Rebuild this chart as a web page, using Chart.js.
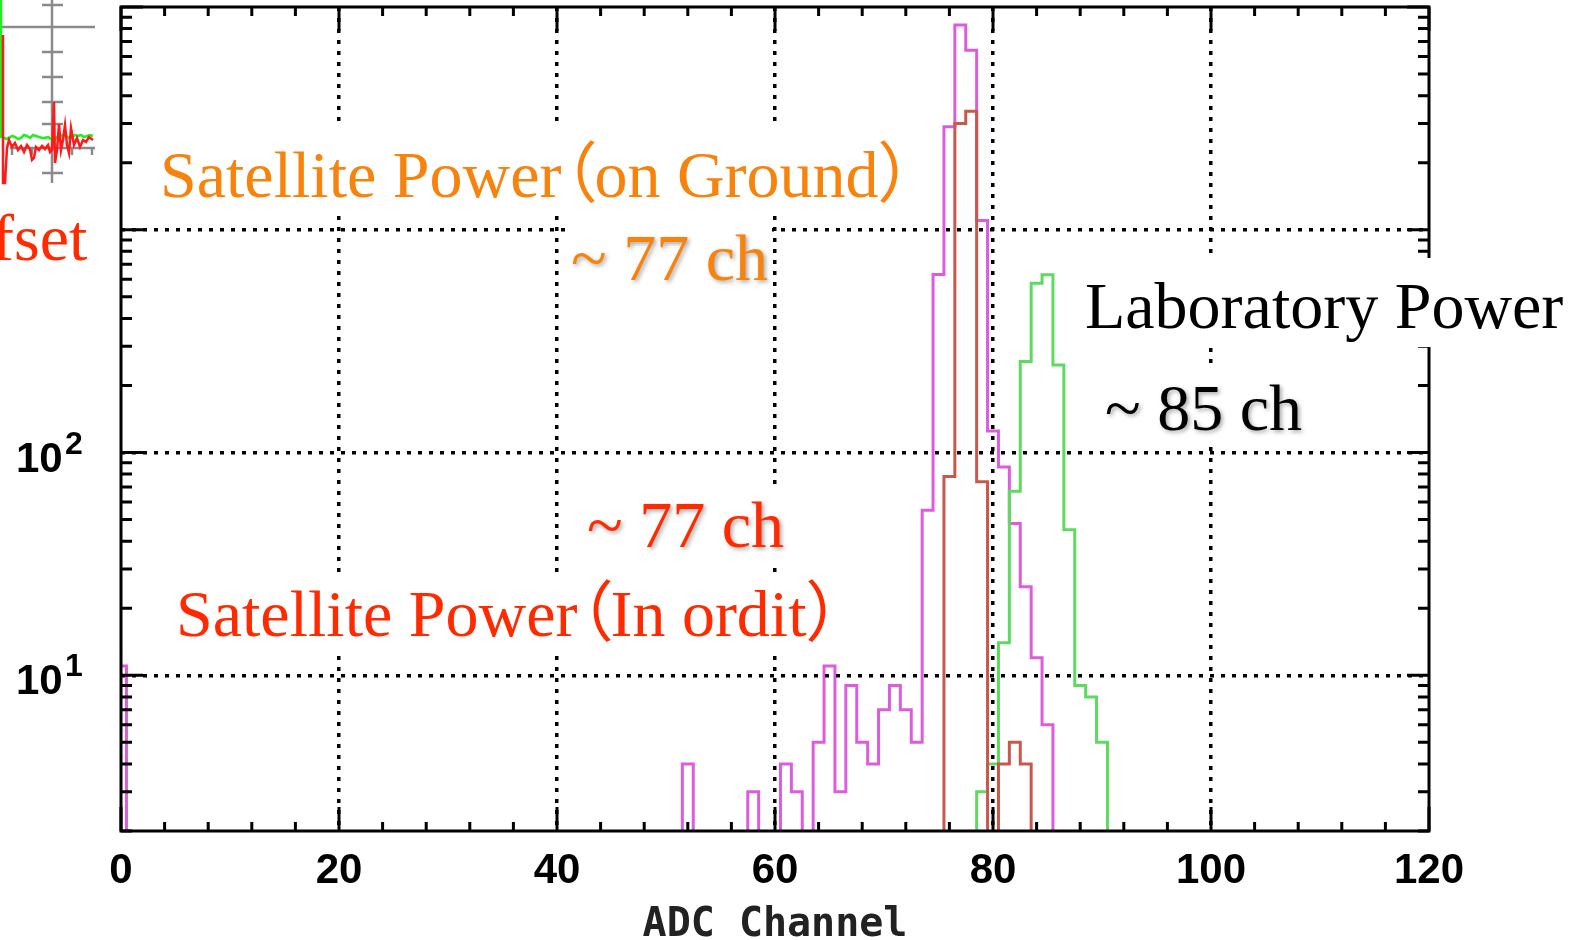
<!DOCTYPE html>
<html>
<head>
<meta charset="utf-8">
<title>ADC Channel spectrum</title>
<script src="https://cdn.jsdelivr.net/npm/chart.js@4.4.1/dist/chart.umd.min.js"></script>
<style>
    html, body { margin: 0; padding: 0; background: #fff; }
    #wrap { position: relative; width: 1580px; height: 940px; overflow: hidden; }
    #main { position: absolute; left: 0; top: 0; }
    #inset { position: absolute; left: 0; top: 0; }
</style>
</head>
<body>
<div id="wrap">
    <canvas id="main" width="1580" height="940"></canvas>
    <canvas id="inset" width="95" height="190"></canvas>
</div>
<script>
// Counts per ADC channel (channels not listed are empty)
const groundChannels = [0, 52, 58, 61, 62, 64, 65, 66, 67, 68, 69, 70, 71, 72, 73, 74, 75, 76, 77, 78, 79, 80, 81, 82, 83, 84, 85];
const groundCounts   = [11, 4, 3, 4, 3, 5, 11, 3, 9, 5, 4, 7, 9, 7, 5, 55, 630, 2900, 8300, 6400, 1100, 125, 86, 48, 25, 12, 6];

const orbitChannels = [76, 77, 78, 79, 81, 82, 83];
const orbitCounts   = [78, 3000, 3400, 74, 4, 5, 4];

const labChannels = [79, 80, 81, 82, 83, 84, 85, 86, 87, 88, 89, 90];
const labCounts   = [3, 4, 14, 67, 256, 576, 628, 247, 45, 9, 8, 5];

// Axes
const xTicks = [0, 20, 40, 60, 80, 100, 120];
const xMinorStep = 4;
const yTicks = [10, 100, 1000];
const yLabels = [10, 100];   // the 10^3 label sits under the neighbouring figure

// Piece of the neighbouring figure at the top left (its own pixel-like units)
const insetGreenX = [1, 1, 3, 6, 9, 12, 15, 18, 21, 24, 27, 30, 33, 36, 39, 42, 45, 48, 51, 54, 57, 60, 63, 66, 69, 72, 75, 78, 81, 84, 87, 90, 93];
const insetGreenY = [0, 137, 137, 139, 138, 136, 137, 139, 138, 135, 136, 138, 135, 136, 137, 138, 138, 137, 139, 140, 137, 136, 135, 136, 138, 137, 135, 136, 135, 137, 136, 135, 136];
const insetRedX = [3, 3, 5, 7, 9, 12, 15, 18, 21, 24, 27, 30, 32, 34, 36, 39, 42, 45, 48, 50, 52, 54, 55, 57, 59, 61, 63, 65, 67, 69, 71, 74, 77, 80, 83, 86, 89, 93];
const insetRedY = [35, 183, 183, 148, 140, 147, 143, 150, 146, 152, 145, 149, 160, 158, 147, 150, 146, 149, 145, 152, 150, 102, 163, 150, 124, 150, 140, 125, 145, 153, 128, 145, 138, 147, 140, 142, 137, 140];

const EMPTY = 0.5; // below the bottom of the log axis

const notes = [
    { text: 'Satellite Power（on Ground）', color: '#f7820c', x: 160, y: 197, box: [150, 125, 905, 215] },
    { text: '~ 77 ch', color: '#f7820c', x: 571, y: 280, box: [566, 222, 772, 292], shadow: true },
    { text: 'Laboratory Power', color: '#000', x: 1085, y: 328, box: [1075, 258, 1580, 347] },
    { text: '~ 85 ch', color: '#000', x: 1105, y: 430, box: [1095, 365, 1302, 442], shadow: true },
    { text: '~ 77 ch', color: '#ff2a00', x: 587, y: 547, box: [580, 485, 790, 562], shadow: true },
    { text: 'Satellite Power（In ordit）', color: '#ff2a00', x: 176, y: 636, box: [168, 577, 842, 655] },
    { text: 'fset', color: '#ff2a00', x: -8, y: 260, box: [0, 205, 95, 275] }
];

function toSteps(channels, counts) {
    const pts = [];
    const first = channels[0] - 1;
    const last = channels[channels.length - 1] + 1;
    for (let ch = first; ch <= last; ch++) {
        const i = channels.indexOf(ch);
        pts.push({ x: ch, y: i >= 0 ? counts[i] : EMPTY });
    }
    return pts;
}

function drawNote(ctx, n) {
    const size = 66;
    ctx.save();
    ctx.fillStyle = '#fff';
    ctx.fillRect(n.box[0], n.box[1], n.box[2] - n.box[0], n.box[3] - n.box[1]);
    ctx.fillStyle = n.color;
    ctx.textAlign = 'left';
    ctx.textBaseline = 'alphabetic';
    if (n.shadow) {
        ctx.shadowColor = 'rgba(0, 0, 0, 0.35)';
        ctx.shadowBlur = 4;
        ctx.shadowOffsetX = 2;
        ctx.shadowOffsetY = 2;
    }
    let x = n.x;
    n.text.split(/([（）])/).forEach(part => {
        if (!part) return;
        if (part === '（' || part === '）') {
            // full-width brackets, set tight like the original
            ctx.font = size + 'px "Noto Sans CJK JP"';
            const off = part === '（' ? -0.45 : -0.02;
            ctx.fillText(part, x + off * size, n.y);
            x += 0.5 * size;
        } else {
            ctx.font = size + 'px "Liberation Serif", "Times New Roman", serif';
            ctx.fillText(part, x, n.y);
            x += ctx.measureText(part).width;
        }
    });
    ctx.restore();
}

const framePlugin = {
    id: 'frame',
    afterDraw(chart) {
        const { ctx, chartArea: a, scales: { x, y } } = chart;
        ctx.save();
        ctx.strokeStyle = '#000';
        ctx.lineWidth = 3;
        ctx.setLineDash([]);

        // inward ticks on all four sides
        ctx.beginPath();
        for (let v = x.min; v <= x.max; v += xMinorStep) {
            const px = x.getPixelForValue(v);
            const len = v % 20 === 0 ? 24 : 9;
            ctx.moveTo(px, a.bottom); ctx.lineTo(px, a.bottom - len);
            ctx.moveTo(px, a.top); ctx.lineTo(px, a.top + len);
        }
        for (let p = 1; p <= y.max; p *= 10) {
            for (let m = 1; m <= 9; m++) {
                const v = m * p;
                if (v < y.min || v > y.max) continue;
                const py = y.getPixelForValue(v);
                const len = m === 1 ? 22 : 11;
                ctx.moveTo(a.left, py); ctx.lineTo(a.left + len, py);
                ctx.moveTo(a.right, py); ctx.lineTo(a.right - len, py);
            }
        }
        ctx.stroke();
        ctx.strokeRect(a.left, a.top, a.right - a.left, a.bottom - a.top);

        // y labels as powers of ten
        ctx.fillStyle = '#000';
        ctx.textAlign = 'left';
        ctx.textBaseline = 'alphabetic';
        yLabels.forEach(v => {
            const py = y.getPixelForValue(v);
            ctx.font = 'bold 42px "Liberation Sans", Arial, sans-serif';
            ctx.fillText('10', 16, py + 19);
            ctx.font = 'bold 32px "Liberation Sans", Arial, sans-serif';
            ctx.fillText(String(Math.round(Math.log10(v))), 65, py + 1);
        });
        ctx.restore();

        notes.forEach(n => drawNote(ctx, n));
    }
};

const gridColor = ctx => (ctx.tick && (ctx.tick.value === 0 || ctx.tick.value === 120)) ? 'rgba(0,0,0,0)' : '#000';

new Chart(document.getElementById('main'), {
    type: 'line',
    data: {
        datasets: [
            {
                label: 'Satellite Power (In ordit)',
                data: toSteps(orbitChannels, orbitCounts),
                borderColor: '#c9584c',
                borderWidth: 3,
                stepped: 'middle',
                pointRadius: 0,
                fill: false
            },
            {
                label: 'Laboratory Power',
                data: toSteps(labChannels, labCounts),
                borderColor: '#5fd95f',
                borderWidth: 3,
                stepped: 'middle',
                pointRadius: 0,
                fill: false
            },
            {
                label: 'Satellite Power (on Ground)',
                data: toSteps(groundChannels, groundCounts),
                borderColor: '#dc5ddc',
                borderWidth: 3,
                stepped: 'middle',
                pointRadius: 0,
                fill: false
            }
        ]
    },
    options: {
        responsive: false,
        animation: false,
        layout: { padding: { left: 0, right: 151, top: 7, bottom: 0 } },
        plugins: {
            legend: { display: false },
            tooltip: { enabled: false }
        },
        scales: {
            x: {
                type: 'linear',
                min: 0,
                max: 120,
                afterBuildTicks: s => { s.ticks = xTicks.map(v => ({ value: v })); },
                afterFit: s => { s.height = 109; },
                grid: { color: gridColor, lineWidth: 3.5, drawTicks: false, z: 1 },
                border: { display: false, dash: [4, 7] },
                ticks: {
                    color: '#000',
                    padding: 15,
                    maxRotation: 0,
                    autoSkip: false,
                    font: { family: '"Liberation Sans", Arial, sans-serif', size: 42, weight: 'bold' }
                },
                title: {
                    display: true,
                    text: 'ADC Channel',
                    color: '#222',
                    padding: { top: 0, bottom: 0 },
                    font: { family: '"DejaVu Sans Mono", monospace', size: 40, weight: 'bold', lineHeight: 0.7 }
                }
            },
            y: {
                type: 'logarithmic',
                min: 2,
                max: 10000,
                afterBuildTicks: s => { s.ticks = yTicks.map(v => ({ value: v })); },
                afterFit: s => { s.width = 121; },
                grid: { color: '#000', lineWidth: 3.5, drawTicks: false, z: 1 },
                border: { display: false, dash: [4, 7] },
                ticks: { display: false }
            }
        }
    },
    plugins: [framePlugin]
});

// neighbouring figure's corner
const insetGuides = {
    id: 'guides',
    beforeDatasetsDraw(chart) {
        const { ctx, scales: { x, y } } = chart;
        const X = v => x.getPixelForValue(v);
        const Y = v => y.getPixelForValue(v);
        ctx.save();
        ctx.strokeStyle = '#8a8a8a';
        ctx.lineWidth = 2.5;
        ctx.beginPath();
        ctx.moveTo(X(0), Y(27)); ctx.lineTo(X(95), Y(27));
        ctx.moveTo(X(52), Y(0)); ctx.lineTo(X(52), Y(183));
        [5, 52, 77, 102, 124, 173].forEach(t => { ctx.moveTo(X(42), Y(t)); ctx.lineTo(X(63), Y(t)); });
        ctx.moveTo(X(10), Y(148)); ctx.lineTo(X(95), Y(148));
        [12, 32, 72, 92].forEach(t => { ctx.moveTo(X(t), Y(148)); ctx.lineTo(X(t), Y(155)); });
        ctx.stroke();
        ctx.restore();
    }
};

new Chart(document.getElementById('inset'), {
    type: 'line',
    data: {
        datasets: [
            {
                data: insetRedX.map((x, i) => ({ x: x, y: insetRedY[i] })),
                borderColor: '#ff1a1a',
                borderWidth: 2.5,
                pointRadius: 0
            },
            {
                data: insetGreenX.map((x, i) => ({ x: x, y: insetGreenY[i] })),
                borderColor: '#22ee22',
                borderWidth: 2.5,
                pointRadius: 0
            }
        ]
    },
    options: {
        responsive: false,
        animation: false,
        layout: { padding: 0 },
        plugins: { legend: { display: false }, tooltip: { enabled: false } },
        scales: {
            x: { type: 'linear', min: 0, max: 95, display: false },
            y: { type: 'linear', min: 0, max: 190, reverse: true, display: false }
        }
    },
    plugins: [insetGuides]
});
</script>
</body>
</html>
